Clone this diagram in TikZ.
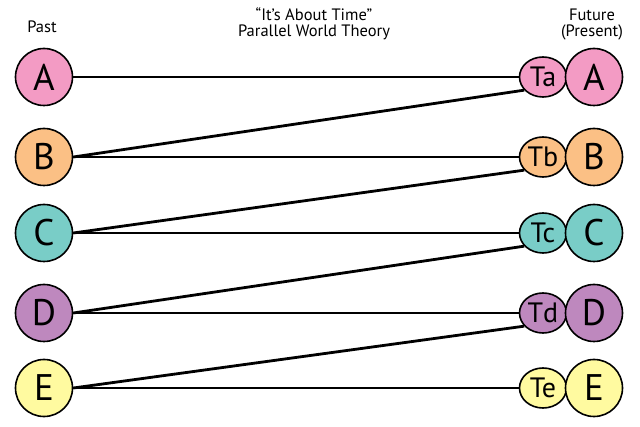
\documentclass[tikz,border=0pt]{standalone}
\usepackage{fontspec}
\setmainfont{PT Sans}
\usepackage{xcolor}
\usetikzlibrary{shapes.geometric,positioning,calc}
\definecolor{rowA}{RGB}{243,155,196}
\definecolor{rowB}{RGB}{251,192,133}
\definecolor{rowC}{RGB}{121,205,199}
\definecolor{rowD}{RGB}{190,136,190}
\definecolor{rowE}{RGB}{255,250,160}

\begin{document}
\begin{tikzpicture}[x=1pt, y=-1pt,
    big/.style={circle, draw, line width=1.6pt, minimum size=57pt, inner sep=0pt,
        font=\fontsize{37}{37}\selectfont},
    small/.style={ellipse, draw, line width=1.6pt, minimum width=47pt, minimum height=40pt,
        inner sep=0pt, font=\fontsize{28}{28}\selectfont},
    link/.style={line width=2.8pt},
    label/.style={anchor=base, inner sep=0pt, font=\fontsize{16.5}{16.5}\selectfont}]
                \useasboundingbox (0,0) rectangle (640,427);
                \node[label] (past) at (42,33) {Past};
                \node[label] (title) at (314,21) {“It’s About Time”};
                \node[label] (theory) at (314,36.5) {Parallel World Theory};
                \node[label] (future) at (592,21) {Future};
                \node[label] (present) at (592,36.5) {(Present)};
                \foreach \n/\l/\y in {A/a/77, B/b/157, C/c/233, D/d/313, E/e/388}{
                    \node[big, fill=row\n] (past\n) at (44,\y) {\n};
                    \node[small, fill=row\n] (t\n) at (543,\y) {T\l};
                    \node[big, fill=row\n] (fut\n) at (594,\y) {\n};
                    \draw[link] (past\n) -- (t\n);
                }
                \foreach \a/\b in {B/A, C/B, D/C, E/D}{
                    \draw[link] (past\a.east) -- (t\b.215);
                }
            \end{tikzpicture}
\end{document}
